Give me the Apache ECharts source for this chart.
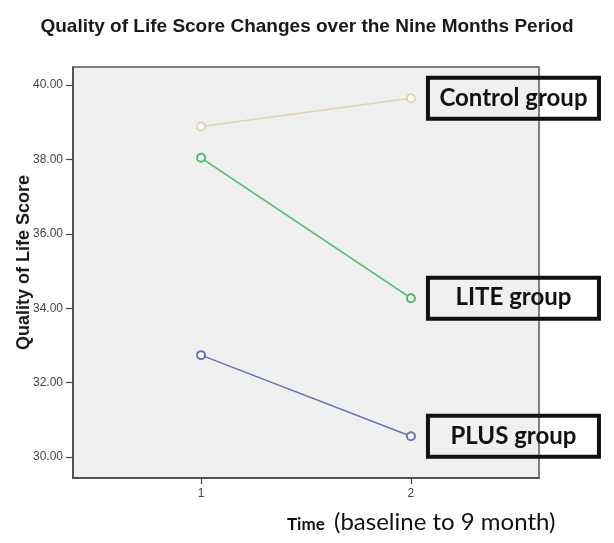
<!DOCTYPE html>
<html>
<head>
<meta charset="utf-8">
<script src="https://cdn.jsdelivr.net/npm/echarts@6/dist/echarts.min.js"></script>
<style>
html,body{margin:0;padding:0;background:#fff;}
#chart{width:614px;height:543px;}
</style>
</head>
<body>
<div id="chart"></div>
<script>
// Data
var timePoints = [1, 2];
var seriesNames = ['Control group', 'LITE group', 'PLUS group'];
var controlScores = [38.88, 39.64];
var liteScores = [38.04, 34.27];
var plusScores = [32.74, 30.56];
var yTickValues = [30, 32, 34, 36, 38, 40];
var xTickValues = [1, 2];

var colors = ['#e3d6a8', '#4dbb63', '#6673b5'];
var valueSets = [controlScores, liteScores, plusScores];

var chart = echarts.init(document.getElementById('chart'), null, {renderer: 'canvas'});

var series = seriesNames.map(function (name, i) {
  var vals = valueSets[i];
  return {
    name: name,
    type: 'line',
    data: timePoints.map(function (t, j) {
      var d = {value: [t, vals[j]]};
      if (j === timePoints.length - 1) {
        d.label = {
          show: true,
          position: 'right',
          distance: 12,
          formatter: '{t|' + name + '}',
          padding: [5, 4, 6, 4],
          borderColor: '#111',
          borderWidth: 2,
          backgroundColor: 'transparent',
          rich: {
            t: {
              color: '#111',
              fontFamily: 'Lato',
              fontWeight: 'bold',
              fontSize: 24,
              width: 163,
              height: 30,
              lineHeight: 30,
              align: 'center'
            }
          }
        };
      }
      return d;
    }),
    symbol: 'emptyCircle',
    symbolSize: 8,
    showAllSymbol: true,
    lineStyle: {color: colors[i], width: 1.5},
    itemStyle: {color: colors[i], borderColor: colors[i], borderWidth: 1.5},
    emphasis: {disabled: true},
    animation: false,
    z: 3
  };
});

var option = {
  backgroundColor: '#ffffff',
  animation: false,
  title: {
    text: 'Quality of Life Score Changes over the Nine Months Period',
    left: 'center',
    top: 12,
    textStyle: {
      fontFamily: 'Liberation Sans, Arial, sans-serif',
      fontWeight: 'bold',
      fontSize: 19,
      color: '#1a1a1a'
    }
  },
  grid: {
    left: 73, top: 67, right: 75, bottom: 65,
    show: true,
    backgroundColor: '#f0f0f0',
    borderColor: '#555',
    borderWidth: 1.5,
    containLabel: false,
    outerBoundsMode: 'none'
  },
  xAxis: {
    type: 'value',
    min: 0.39,
    max: 2.61,
    axisLine: {show: true, lineStyle: {color: '#444', width: 1.5}},
    axisTick: {show: true, customValues: xTickValues, length: 6, lineStyle: {color: '#444', width: 1.2}},
    axisLabel: {
      customValues: xTickValues,
      margin: 10,
      color: '#444',
      fontFamily: 'Liberation Sans, Arial, sans-serif',
      fontSize: 12,
      formatter: function (v) { return String(v); }
    },
    splitLine: {show: false}
  },
  yAxis: {
    type: 'value',
    min: 29.44,
    max: 40.48,
    name: 'Quality of Life Score',
    nameLocation: 'middle',
    nameGap: 40,
    nameMoveOverlap: false,
    nameTextStyle: {
      fontFamily: 'Liberation Sans, Arial, sans-serif',
      fontWeight: 'bold',
      fontSize: 18,
      color: '#1a1a1a',
      padding: [0, 0, 0, 20]
    },
    axisLine: {show: true, lineStyle: {color: '#444', width: 1.5}},
    axisTick: {show: true, customValues: yTickValues, length: 7, lineStyle: {color: '#444', width: 1.2}},
    axisLabel: {
      customValues: yTickValues,
      margin: 10,
      color: '#444',
      fontFamily: 'Liberation Sans, Arial, sans-serif',
      fontSize: 12,
      formatter: function (v) { return v.toFixed(2); }
    },
    splitLine: {show: false}
  },
  graphic: [{
    type: 'text',
    left: 287,
    top: 516,
    style: {
      text: 'Time',
      fontFamily: 'Lato',
      fontWeight: 'bold',
      fontSize: 17,
      fill: '#111'
    }
  }, {
    type: 'text',
    left: 334,
    top: 510,
    style: {
      text: '(baseline to 9 month)',
      fontFamily: 'Lato',
      fontSize: 24,
      fill: '#111'
    }
  }],
  series: series
};

chart.setOption(option);
</script>
</body>
</html>
